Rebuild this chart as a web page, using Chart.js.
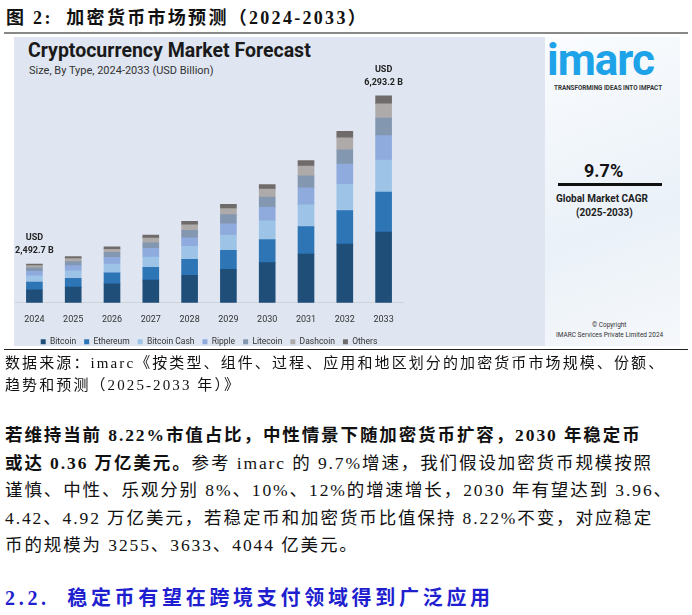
<!DOCTYPE html>
<html><head><meta charset="utf-8">
<script src="https://cdn.jsdelivr.net/npm/chart.js@4"></script>
<style>
body{margin:0;width:692px;height:615px;background:#fff;position:relative;overflow:hidden;font-family:"Liberation Serif","Noto Sans CJK SC",serif;color:#111}
.abs{position:absolute;white-space:nowrap}
</style></head><body>
<div class="abs" style="left:6px;top:3px;font-size:18px;font-weight:bold;letter-spacing:2.3px">图 2:&nbsp; 加密货币市场预测（2024-2033）</div>
<div class="abs" style="left:4px;top:32px;width:684px;height:2px;background:#888"></div>
<div class="abs" style="left:14px;top:37px;width:531px;height:309px;background:#dfe6f1"></div>
<div class="abs" style="left:545px;top:37px;width:135px;height:309px;background:linear-gradient(160deg,#fafcfe,#eaf1f8 60%,#f6f8fb)"></div>
<div class="abs" style="left:28px;top:39px;font-family:Roboto,sans-serif;font-weight:bold;font-size:19.5px;color:#1a1a1a">Cryptocurrency Market Forecast</div>
<div class="abs" style="left:29px;top:64px;font-family:Roboto,sans-serif;font-size:11px;color:#333">Size, By Type, 2024-2033 (USD Billion)</div>
<canvas id="c" class="abs" width="400" height="320" style="left:12px;top:36px;width:400px;height:320px"></canvas>
<div class="abs" style="left:547px;top:34px;font-family:Roboto,sans-serif;font-weight:bold;font-size:44px;color:#1ea3e8;letter-spacing:-1px">imarc</div>
<div class="abs" style="left:554px;top:84px;font-family:Roboto,sans-serif;font-weight:bold;font-size:6.3px;color:#333">TRANSFORMING IDEAS INTO IMPACT</div>
<div class="abs" style="left:584px;top:160px;font-family:Roboto,sans-serif;font-weight:bold;font-size:18px;color:#111">9.7%</div>
<div class="abs" style="left:558px;top:183px;width:104px;height:3px;background:#111"></div>
<div class="abs" style="left:556px;top:193px;font-family:Roboto,sans-serif;font-weight:bold;font-size:10px;color:#222">Global Market CAGR</div>
<div class="abs" style="left:576px;top:207px;font-family:Roboto,sans-serif;font-weight:bold;font-size:10px;color:#222">(2025-2033)</div>
<div class="abs" style="left:592px;top:321px;font-family:Roboto,sans-serif;font-size:6.5px;color:#333">© Copyright</div>
<div class="abs" style="left:556px;top:331px;font-family:Roboto,sans-serif;font-size:6.5px;color:#333">IMARC Services Private Limited 2024</div>
<div class="abs" style="left:4px;top:349px;width:684px;height:1px;background:#222"></div>
<div class="abs" style="left:5px;top:352px;font-size:15px;line-height:22px;letter-spacing:2.1px">数据来源：imarc《按类型、组件、过程、应用和地区划分的加密货币市场规模、份额、<br>趋势和预测（2025-2033 年）》</div>
<div class="abs" style="left:5px;top:422px;font-size:17.5px;line-height:27.5px;letter-spacing:1.9px">
<b>若维持当前 8.22%市值占比，中性情景下随加密货币扩容，2030 年稳定币</b><br>
<b>或达 0.36 万亿美元。</b>参考 imarc 的 9.7%增速，我们假设加密货币规模按照<br>
谨慎、中性、乐观分别 8%、10%、12%的增速增长，2030 年有望达到 3.96、<br>
4.42、4.92 万亿美元，若稳定币和加密货币比值保持 8.22%不变，对应稳定<br>
币的规模为 3255、3633、4044 亿美元。</div>
<div class="abs" style="left:5px;top:582px;font-size:20px;font-weight:bold;color:#1f1fd0;letter-spacing:3.7px">2.2.&nbsp; 稳定币有望在跨境支付领域得到广泛应用</div>
<script>
const years=["2024","2025","2026","2027","2028","2029","2030","2031","2032","2033"];
const bitcoin=[390,470,570,680,830,1010,1210,1470,1770,2130];
const ethereum=[230,270,330,390,480,570,700,830,1010,1210];
const bitcoinCash=[190,220,270,310,390,460,560,660,790,970];
const ripple=[140,160,200,260,260,340,410,510,620,740];
const litecoin=[100,120,150,180,230,280,310,360,430,530];
const dashcoin=[70,90,90,130,160,180,240,300,360,430];
const others=[50,60,80,90,110,130,140,160,200,240];
const totalLabels={0:["USD","2,492.7 B"],9:["USD","6,293.2 B"]};
const names=["Bitcoin","Ethereum","Bitcoin Cash","Ripple","Litecoin","Dashcoin","Others"];
const series=[bitcoin,ethereum,bitcoinCash,ripple,litecoin,dashcoin,others];
const colors=["#1f4e79","#2e75b6","#9dc3e6","#8faadc","#8497b0","#aeaaaa","#6f6b6b"];
const topLabel={id:"topLabel",afterDatasetsDraw(ch){const ctx=ch.ctx;const last=ch.getDatasetMeta(6);
ctx.save();ctx.font="bold 9px Roboto";ctx.fillStyle="#222";ctx.textAlign="center";
for(const k in totalLabels){const el=last.data[k];ctx.fillText(totalLabels[k][0],el.x,el.y-26);ctx.fillText(totalLabels[k][1],el.x,el.y-13);}
ctx.restore();}};
new Chart(document.getElementById("c"),{type:"bar",
data:{labels:years,datasets:series.map((d,i)=>({label:names[i],data:d,backgroundColor:colors[i],barThickness:16}))},
options:{responsive:false,animation:false,devicePixelRatio:1,
layout:{padding:{top:35,left:3,right:9,bottom:0}},
plugins:{legend:{position:"bottom",labels:{boxWidth:5,boxHeight:5,font:{family:"Roboto",size:8.5},color:"#333",padding:8}},tooltip:{enabled:false}},
scales:{x:{stacked:true,grid:{display:false},border:{color:"#cfd3da"},ticks:{padding:4,font:{family:"Roboto",size:9},color:"#333"}},
y:{stacked:true,display:false,min:0,max:7000}}},
plugins:[topLabel]});
</script>
</body></html>
